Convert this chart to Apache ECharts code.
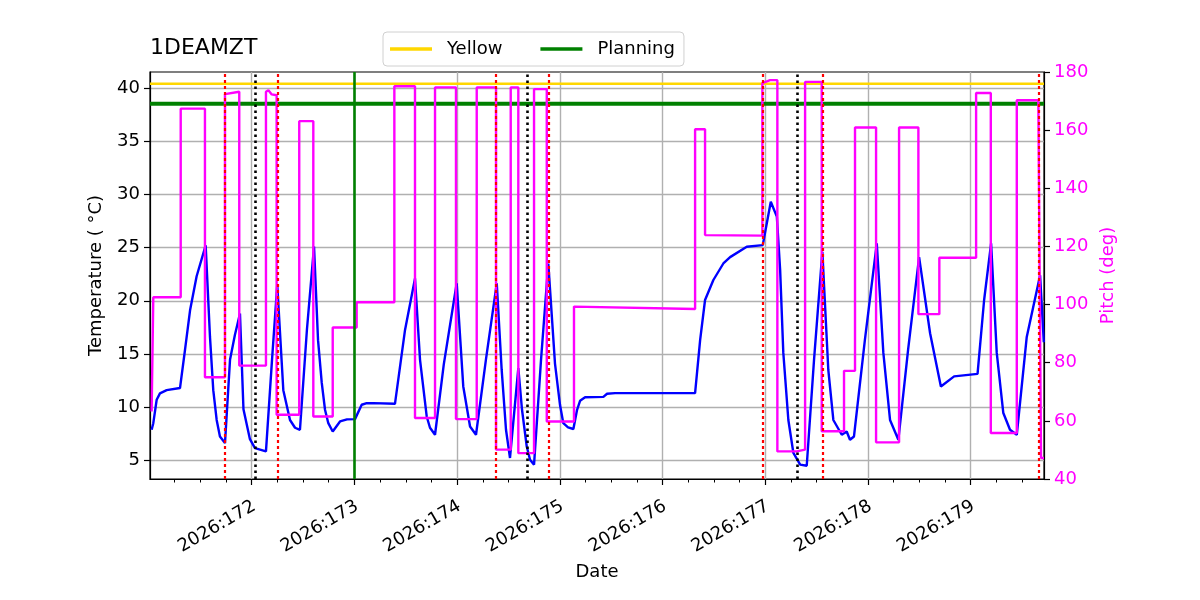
<!DOCTYPE html>
<html>
<head>
<meta charset="utf-8">
<script src="https://cdn.jsdelivr.net/npm/echarts@6.0.0/dist/echarts.min.js"></script>
<style>
html, body { margin: 0; padding: 0; background: #ffffff; }
#chart { width: 1200px; height: 600px; }
</style>
</head>
<body>
<div id="chart"></div>
<script>
// ---------------- data ----------------
const chartTitle = '1DEAMZT';
const xMin = 171.01, xMax = 179.714;          // day-of-year range shown
const tempMin = 3.255, tempMax = 41.49;       // left axis range
const pitchMin = 40, pitchMax = 180, pitchStep = 20;
const dayTicks = [172, 173, 174, 175, 176, 177, 178, 179];
const tempTicks = [5, 10, 15, 20, 25, 30, 35, 40];

const tempTimes = [
  171.026, 171.042, 171.075, 171.107, 171.172, 171.302, 171.351, 171.400, 171.464, 171.552,
  171.594, 171.626, 171.659, 171.691, 171.740, 171.789, 171.837, 171.886, 171.920, 171.983,
  172.032, 172.139, 172.198, 172.249, 172.308, 172.373, 172.422, 172.470, 172.538, 172.607,
  172.646, 172.682, 172.714, 172.746, 172.789, 172.860, 172.928, 173.006, 173.071, 173.113,
  173.184, 173.395, 173.493, 173.590, 173.639, 173.704, 173.736, 173.785, 173.870, 173.996,
  174.060, 174.126, 174.184, 174.281, 174.386, 174.434, 174.476, 174.515, 174.596, 174.632,
  174.678, 174.710, 174.749, 174.817, 174.888, 174.953, 175.002, 175.034, 175.080, 175.132,
  175.168, 175.197, 175.246, 175.424, 175.460, 175.538, 176.317, 176.366, 176.414, 176.495,
  176.592, 176.658, 176.820, 176.976, 177.054, 177.113, 177.145, 177.176, 177.225, 177.274,
  177.340, 177.404, 177.475, 177.556, 177.614, 177.663, 177.745, 177.793, 177.825, 177.864,
  177.970, 178.086, 178.150, 178.215, 178.296, 178.391, 178.498, 178.605, 178.710, 178.839,
  179.067, 179.131, 179.199, 179.254, 179.318, 179.383, 179.449, 179.546, 179.676, 179.712
];
const tempValues = [
  7.88, 8.5, 10.7, 11.3, 11.6, 11.8, 15.4, 19.1, 22.3, 25.2,
  16.6, 11.6, 8.8, 7.25, 6.63, 14.45, 16.8, 18.8, 9.8, 7.0,
  6.16, 5.85, 14.45, 21.5, 11.6, 8.8, 8.07, 7.88, 17.3, 25.1,
  16.3, 12.3, 9.76, 8.5, 7.72, 8.66, 8.86, 8.88, 10.23, 10.37,
  10.38, 10.32, 17.26, 22.1, 14.45, 9.13, 8.07, 7.41, 14.0, 21.64,
  11.95, 8.19, 7.41, 14.5, 21.64, 13.5, 7.88, 5.23, 13.67, 9.76,
  6.31, 5.07, 4.6, 14.45, 23.5, 14.1, 10.2, 8.5, 8.1, 7.95,
  9.76, 10.6, 10.93, 10.97, 11.26, 11.32, 11.32, 16.3, 20.07, 21.95,
  23.5, 24.1, 25.07, 25.23, 29.3, 27.9, 22.9, 15.1, 8.8, 5.7,
  4.6, 4.5, 14.45, 24.6, 13.5, 8.8, 7.41, 7.72, 6.94, 7.25,
  16.3, 25.4, 15.1, 8.8, 6.94, 15.4, 24.1, 16.95, 11.95, 12.9,
  13.13, 20.07, 25.4, 15.1, 9.45, 7.88, 7.41, 16.6, 22.4, 16.1
];

const pitchTimes = [
  171.026, 171.042, 171.309, 171.309, 171.545, 171.545, 171.740, 171.740, 171.879, 171.879,
  172.139, 172.139, 172.163, 172.195, 172.243, 172.243, 172.463, 172.463, 172.600, 172.600,
  172.789, 172.789, 173.022, 173.022, 173.389, 173.389, 173.590, 173.590, 173.785, 173.785,
  173.989, 173.989, 174.191, 174.191, 174.379, 174.379, 174.522, 174.522, 174.596, 174.596,
  174.749, 174.749, 174.873, 174.873, 175.138, 175.138, 176.317, 176.317, 176.414, 176.414,
  176.972, 176.972, 177.047, 177.118, 177.118, 177.307, 177.307, 177.388, 177.388, 177.550,
  177.550, 177.767, 177.767, 177.874, 177.874, 178.079, 178.079, 178.303, 178.303, 178.491,
  178.491, 178.695, 178.695, 179.053, 179.053, 179.196, 179.196, 179.449, 179.449, 179.659,
  179.685, 179.714
];
const pitchValues = [
  63.2, 102.5, 102.5, 167.4, 167.4, 75.0, 75.0, 172.4, 173.2, 79.0,
  79.0, 173.2, 173.7, 172.3, 172.0, 62.1, 62.1, 163.1, 163.1, 61.5,
  61.5, 92.1, 92.1, 100.8, 100.8, 175.1, 175.1, 61.0, 61.0, 174.7,
  174.7, 60.6, 60.6, 174.7, 174.7, 50.1, 50.1, 174.7, 174.7, 48.9,
  48.9, 174.1, 174.1, 59.8, 59.8, 99.3, 98.5, 160.3, 160.3, 123.9,
  123.7, 176.2, 177.2, 177.2, 49.5, 49.5, 50.1, 50.1, 176.6, 176.6,
  56.4, 56.4, 77.2, 77.2, 160.9, 160.9, 52.6, 52.6, 160.9, 160.9,
  96.7, 96.7, 116.1, 116.1, 172.8, 172.8, 55.8, 55.8, 170.3, 170.3,
  47.2, 47.2
];

const yellowLimit = 40.38;
const planningLimit = 38.51;
const planningDay = 173.0;
const redLineDays = [171.743, 172.249, 174.382, 174.888, 176.981, 177.556, 179.659];
const blackLineDays = [172.025, 174.678, 177.312];

// ---------------- chart ----------------
const FONT = 'DejaVu Sans';
const FS = 18;
const zip = (xs, ys) => xs.map((x, i) => [x, ys[i]]);

const eventLines = []
  .concat(redLineDays.map(d => ({ xAxis: d, lineStyle: { color: '#ff0000', width: 2.2, type: [3, 3] } })))
  .concat(blackLineDays.map(d => ({ xAxis: d, lineStyle: { color: '#000000', width: 2.6, type: [2.6, 3.4] } })));

const chart = echarts.init(document.getElementById('chart'), null, { renderer: 'canvas' });
chart.setOption({
  animation: false,
  backgroundColor: '#ffffff',
  textStyle: { fontFamily: FONT },
  title: {
    text: chartTitle,
    left: 150, top: 37, padding: 0,
    textStyle: { fontFamily: FONT, fontSize: 22, fontWeight: 'normal', color: '#000' }
  },
  legend: {
    data: [{ name: 'Yellow', icon: 'rect' }, { name: 'Planning', icon: 'rect' }],
    left: 383, top: 32,
    orient: 'horizontal',
    itemWidth: 42, itemHeight: 3.5, itemGap: 38,
    padding: [8, 9, 8, 7],
    borderColor: '#d0d0d0', borderWidth: 1, borderRadius: 4,
    backgroundColor: 'rgba(255,255,255,0.8)',
    selectedMode: false,
    textStyle: { fontFamily: FONT, fontSize: FS, color: '#000', padding: [0, 0, 0, 10] }
  },
  grid: {
    left: 150, top: 72, width: 894, height: 407,
    show: true, borderColor: '#000', borderWidth: 1.2, backgroundColor: 'transparent'
  },
  xAxis: {
    type: 'value', min: xMin, max: xMax, minInterval: 1, maxInterval: 1,
    name: 'Date', nameLocation: 'middle', nameGap: 84,
    nameTextStyle: { fontFamily: FONT, fontSize: FS, color: '#000' },
    axisLine: { show: true, lineStyle: { color: '#000', width: 1.2 } },
    axisTick: { show: true, customValues: dayTicks, length: 6, lineStyle: { color: '#000', width: 1.2 } },
    minorTick: { show: true, splitNumber: 4, length: 3.5, lineStyle: { color: '#000', width: 1 } },
    axisLabel: {
      customValues: dayTicks, rotate: 30, margin: 27.5, padding: [0, -3, 0, 0],
      fontFamily: FONT, fontSize: FS, color: '#000',
      formatter: v => '2026:' + Math.round(v)
    },
    splitLine: { show: true, lineStyle: { color: '#b0b0b0', width: 1.4 } },
    minorSplitLine: { show: false }
  },
  yAxis: [
    {
      type: 'value', position: 'left', min: tempMin, max: tempMax, minInterval: 5, maxInterval: 5,
      name: 'Temperature ( °C)', nameLocation: 'middle', nameGap: 45,
      nameTextStyle: { fontFamily: FONT, fontSize: FS, color: '#000' },
      axisLine: { show: true, lineStyle: { color: '#000', width: 1.2 } },
      axisTick: { show: true, customValues: tempTicks, length: 6, lineStyle: { color: '#000', width: 1.2 } },
      axisLabel: { customValues: tempTicks, margin: 10, fontFamily: FONT, fontSize: FS, color: '#000' },
      splitLine: { show: true, lineStyle: { color: '#b0b0b0', width: 1.4 } }
    },
    {
      type: 'value', position: 'right', min: pitchMin, max: pitchMax, interval: pitchStep,
      name: 'Pitch (deg)', nameLocation: 'middle', nameGap: 52,
      nameTextStyle: { fontFamily: FONT, fontSize: FS, color: '#ff00ff' },
      axisLine: { show: true, lineStyle: { color: '#000', width: 1.2 } },
      axisTick: { show: true, length: 6, lineStyle: { color: '#000', width: 1.2 } },
      axisLabel: { margin: 10, fontFamily: FONT, fontSize: FS, color: '#ff00ff' },
      splitLine: { show: false }
    }
  ],
  series: [
    {
      name: 'Yellow', type: 'line', yAxisIndex: 0, symbol: 'none', silent: true,
      color: '#FFD700', lineStyle: { color: '#FFD700', width: 2.6 },
      data: [[xMin, yellowLimit], [xMax, yellowLimit]]
    },
    {
      name: 'Planning', type: 'line', yAxisIndex: 0, symbol: 'none', silent: true,
      color: '#008000', lineStyle: { color: '#008000', width: 4 },
      data: [[xMin, planningLimit], [xMax, planningLimit]],
      markLine: {
        silent: true, symbol: ['none', 'none'], label: { show: false },
        lineStyle: { color: '#008000', width: 2.6, type: 'solid' },
        emphasis: { disabled: true },
        data: [{ xAxis: planningDay }]
      }
    },
    {
      name: 'Temperature', type: 'line', yAxisIndex: 0, symbol: 'none', silent: true,
      color: '#0000ff', lineStyle: { color: '#0000ff', width: 2.4 },
      data: zip(tempTimes, tempValues),
      markLine: {
        silent: true, symbol: ['none', 'none'], label: { show: false },
        emphasis: { disabled: true },
        data: eventLines
      }
    },
    {
      name: 'Pitch', type: 'line', yAxisIndex: 1, symbol: 'none', silent: true,
      color: '#ff00ff', lineStyle: { color: '#ff00ff', width: 2.4 },
      data: zip(pitchTimes, pitchValues)
    }
  ]
});
</script>
</body>
</html>
